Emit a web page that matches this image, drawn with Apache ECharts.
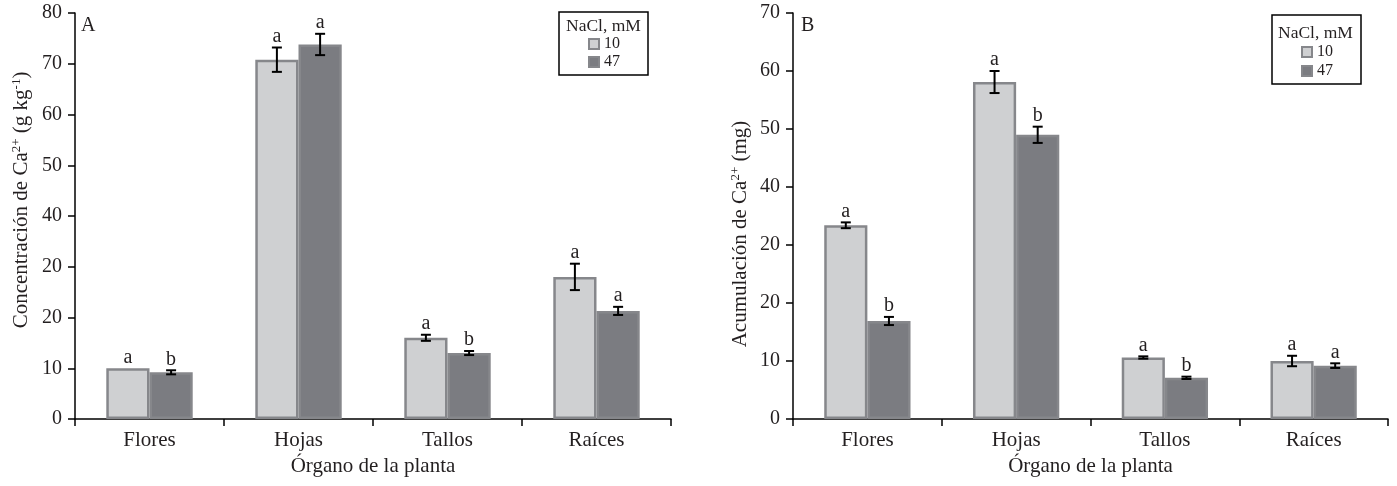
<!DOCTYPE html>
<html>
<head>
<meta charset="utf-8">
<script src="https://cdn.jsdelivr.net/npm/echarts@6/dist/echarts.min.js"></script>
<style>
html,body{margin:0;padding:0;background:#fff;}
#chart{width:1397px;height:486px;}
</style>
</head>
<body>
<div id="chart"></div>
<script>
// ---- data ----
const categories = ['Flores', 'Hojas', 'Tallos', 'Raíces'];
const seriesNames = ['10', '47'];
// Panel A: concentration of Ca2+ (g kg-1)
const concNaCl10 = [10.0, 70.8, 16.0, 28.0];
const concNaCl47 = [9.2, 73.8, 13.0, 21.3];
const concErr10 = [0.0, 2.4, 0.6, 2.6];
const concErr47 = [0.4, 2.1, 0.4, 0.8];
const concLetters10 = ['a', 'a', 'a', 'a'];
const concLetters47 = ['b', 'a', 'b', 'a'];
const yTicksA = ['0', '10', '20', '20', '40', '50', '60', '70', '80'];
// Panel B: accumulation of Ca2+ (mg)
const accNaCl10 = [33.4, 58.1, 10.6, 10.0];
const accNaCl47 = [16.9, 49.0, 7.1, 9.2];
const accErr10 = [0.5, 1.9, 0.2, 0.9];
const accErr47 = [0.7, 1.4, 0.2, 0.4];
const accLetters10 = ['a', 'a', 'a', 'a'];
const accLetters47 = ['b', 'b', 'b', 'a'];
const yTicksB = ['0', '10', '20', '20', '40', '50', '60', '70'];

const FONT = '"Liberation Serif", "Times New Roman", serif';
const TXT = '#231f20';
const LIGHT = '#cfd0d2';
const DARK = '#7b7c81';
const BORDER = '#86878b';
const BAR_FRACTION = 0.58;

function barSeries(name, values, color, axisIdx) {
  return {
    type: 'bar', name: name, xAxisIndex: axisIdx, yAxisIndex: axisIdx,
    data: values,
    barGap: '0%', barCategoryGap: '42%',
    itemStyle: { color: color, borderColor: BORDER, borderWidth: 2.5 },
    emphasis: { disabled: true },
    z: 2
  };
}

function errSeries(values, errs, letters, side, axisIdx) {
  return {
    type: 'custom', xAxisIndex: axisIdx, yAxisIndex: axisIdx,
    data: values.map((v, i) => [i, v, errs[i], letters[i]]),
    encode: { x: 0, y: 1 },
    z: 5, silent: true,
    renderItem: function (params, api) {
      const cat = api.value(0), v = api.value(1), e = api.value(2);
      const band = api.size([1, 0])[0];
      const bw = band * BAR_FRACTION / 2;
      const c = api.coord([cat, v]);
      const x = c[0] + side * bw / 2;
      const top = api.coord([cat, v + e])[1];
      const bot = api.coord([cat, v - e])[1];
      const cap = 5;
      const st = { stroke: '#000', lineWidth: 2 };
      const children = [];
      if (e > 0) {
        children.push({ type: 'line', shape: { x1: x, y1: top, x2: x, y2: bot }, style: st });
        children.push({ type: 'line', shape: { x1: x - cap, y1: top, x2: x + cap, y2: top }, style: st });
        children.push({ type: 'line', shape: { x1: x - cap, y1: bot, x2: x + cap, y2: bot }, style: st });
      }
      children.push({
        type: 'text',
        style: {
          text: api.value(3), x: x, y: Math.min(top, c[1]) - 1,
          align: 'center', verticalAlign: 'bottom',
          font: '20px ' + FONT, fill: TXT
        }
      });
      return { type: 'group', children: children };
    }
  };
}

function xAxisDef(gridIdx) {
  return {
    type: 'category', gridIndex: gridIdx, data: categories,
    boundaryGap: true,
    axisLine: { lineStyle: { color: '#000', width: 1.5 } },
    axisTick: { show: true, length: 7, alignWithLabel: false, lineStyle: { color: '#000', width: 1.5 } },
    axisLabel: { color: TXT, fontFamily: FONT, fontSize: 21, margin: 11 },
    name: 'Órgano de la planta', nameLocation: 'middle', nameGap: 37,
    nameTextStyle: { color: TXT, fontFamily: FONT, fontSize: 21 },
    splitLine: { show: false }
  };
}

function yAxisDef(gridIdx, max, ticks, nameRich, nameGap, namePad) {
  return {
    type: 'value', gridIndex: gridIdx, min: 0, max: max, interval: 10,
    axisLine: { show: true, lineStyle: { color: '#000', width: 1.5 } },
    axisTick: { show: true, length: 7, lineStyle: { color: '#000', width: 1.5 } },
    axisLabel: {
      color: TXT, fontFamily: FONT, fontSize: 20, margin: 13,
      formatter: v => ticks[Math.round(v / 10)]
    },
    splitLine: { show: false },
    name: nameRich, nameLocation: 'middle', nameGap: nameGap, nameRotate: 90,
    nameTextStyle: {
      color: TXT, fontFamily: FONT, fontSize: 21, lineHeight: 22, padding: namePad,
      rich: {
        sup: { fontFamily: FONT, fontSize: 13, verticalAlign: 'top', lineHeight: 22, color: TXT },
        n: { fontFamily: FONT, fontSize: 21, lineHeight: 22, color: TXT }
      }
    }
  };
}

function legendDef(left, top, padTop, gap) {
  return {
    left: left, top: top, orient: 'vertical',
    data: seriesNames,
    icon: 'rect', itemWidth: 10, itemHeight: 10, itemGap: gap,
    borderColor: '#000', borderWidth: 1.5,
    padding: [padTop, 28, 5, 29],
    textStyle: { fontFamily: FONT, fontSize: 16, lineHeight: 16, color: TXT },
    selectedMode: false
  };
}

const plainTitle = { fontFamily: FONT, fontWeight: 'normal', color: TXT };

const option = {
  backgroundColor: '#fff',
  animation: false,
  title: [
    { text: 'A', left: 81, top: 16, textStyle: Object.assign({ fontSize: 20 }, plainTitle), padding: 0 },
    { text: 'B', left: 801, top: 16, textStyle: Object.assign({ fontSize: 20 }, plainTitle), padding: 0 },
    { text: 'NaCl, mM', left: 566, top: 17, textStyle: Object.assign({ fontSize: 17.5 }, plainTitle), padding: 0 },
    { text: 'NaCl, mM', left: 1278, top: 24, textStyle: Object.assign({ fontSize: 17.5 }, plainTitle), padding: 0 }
  ],
  legend: [legendDef(559, 12, 24, 2), legendDef(1272, 15, 29, 3)],
  grid: [
    { left: 75, top: 13, width: 596, height: 406, containLabel: false, outerBoundsMode: 'none' },
    { left: 793, top: 13, width: 595, height: 406, containLabel: false, outerBoundsMode: 'none' }
  ],
  xAxis: [xAxisDef(0), xAxisDef(1)],
  yAxis: [
    yAxisDef(0, 80, yTicksA, '{n|Concentración de Ca}{sup|2+}{n| (g kg}{sup|-1}{n|)}', 43, [0, 0, 0, 32]),
    yAxisDef(1, 70, yTicksB, '{n|Acumulación de Ca}{sup|2+}{n| (mg)}', 42, [0, 36, 0, 0])
  ],
  series: [
    barSeries('10', concNaCl10, LIGHT, 0),
    barSeries('47', concNaCl47, DARK, 0),
    errSeries(concNaCl10, concErr10, concLetters10, -1, 0),
    errSeries(concNaCl47, concErr47, concLetters47, 1, 0),
    barSeries('10', accNaCl10, LIGHT, 1),
    barSeries('47', accNaCl47, DARK, 1),
    errSeries(accNaCl10, accErr10, accLetters10, -1, 1),
    errSeries(accNaCl47, accErr47, accLetters47, 1, 1)
  ]
};

const chart = echarts.init(document.getElementById('chart'), null, { renderer: 'canvas' });
chart.setOption(option);
</script>
</body>
</html>
